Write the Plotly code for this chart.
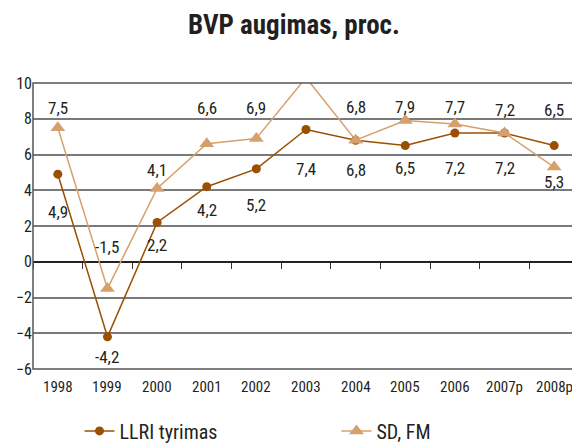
import plotly.graph_objects as go

years = ["1998", "1999", "2000", "2001", "2002", "2003", "2004", "2005", "2006", "2007p", "2008p"]
llri = [4.9, -4.2, 2.2, 4.2, 5.2, 7.4, 6.8, 6.5, 7.2, 7.2, 6.5]
sdfm = [7.5, -1.5, 4.1, 6.6, 6.9, 10.3, 6.8, 7.9, 7.7, 7.2, 5.3]
# label offsets in px (positive = above the point)
llri_shift = [-38, -20, -23, -23, -36, -40, -30, -22, -35, -35, 36]
sdfm_shift = [20, 42, 18, 36, 30, 21, 33, 14, 17, 23, -15]

FONT = "Liberation Sans Narrow, Arial Narrow, Roboto Condensed, Roboto, sans-serif"
C_LLRI = "#9a5000"
C_SD = "#d6a06c"
INK = "#231f20"

# page body has an 8px margin, so the figure is a bit smaller than the window
W, H, PAD = 580, 444, 8
Y_MIN, Y_MAX = -6, 10

fig = go.Figure()

fig.add_trace(go.Scatter(
    x=years, y=llri, mode="lines+markers", name="LLRI tyrimas",
    line=dict(color=C_LLRI, width=1.5), cliponaxis=False,
    marker=dict(symbol="circle", size=9, color=C_LLRI),
))
fig.add_trace(go.Scatter(
    x=years, y=sdfm, mode="lines+markers", name="SD, FM",
    line=dict(color=C_SD, width=1.5), cliponaxis=False,
    marker=dict(symbol="triangle-up", size=13, color=C_SD),
))

annotations = []
for vals, shifts in ((llri, llri_shift), (sdfm, sdfm_shift)):
    for i, (v, s) in enumerate(zip(vals, shifts)):
        annotations.append(dict(
            x=i, y=v, xref="x", yref="y", text=f"{v:.1f}".replace(".", ","),
            showarrow=False, yshift=s, font=dict(size=17, color=INK, family=FONT),
        ))
# category labels under the frame (the x axis itself sits on the zero line)
for i, yr in enumerate(years):
    annotations.append(dict(
        x=i, y=0, xref="x", yref="paper", text=yr, showarrow=False,
        yanchor="top", yshift=-7, font=dict(size=15, color=INK, family=FONT),
    ))

fig.update_layout(
    width=W - PAD, height=H - PAD,
    margin=dict(l=33 - PAD, r=1, t=83 - PAD, b=75),
    paper_bgcolor="white", plot_bgcolor="white",
    font=dict(family=FONT, color=INK, size=15),
    title=dict(text="<b>BVP augimas, proc.</b>", x=0.5, xanchor="center",
               y=0.962, yanchor="middle", font=dict(size=27, family=FONT)),
    showlegend=True,
    legend=dict(orientation="h", x=0.125, xanchor="left", xref="container",
                y=0.03, yanchor="middle", yref="container",
                font=dict(size=20, family=FONT), entrywidth=212),
    annotations=annotations,
    shapes=[dict(type="rect", xref="paper", yref="paper", x0=0, x1=1, y0=0, y1=1,
                 line=dict(color="#555", width=1.5), layer="above")],
    xaxis=dict(type="category", range=[-0.5, len(years) - 0.5], showgrid=False,
               anchor="free", position=(0 - Y_MIN) / (Y_MAX - Y_MIN),
               ticks="outside", tickson="boundaries", ticklen=6, tickwidth=1.3,
               tickcolor="#333", showticklabels=False, showline=False,
               zeroline=False, automargin=False),
    yaxis=dict(range=[Y_MIN, Y_MAX], dtick=2, showgrid=True, gridcolor="#7a7a7a",
               gridwidth=1.5, zeroline=True, zerolinecolor="#222", zerolinewidth=1.5,
               showline=False, ticks="", tickfont=dict(size=16), automargin=False),
)

fig.write_html("out.html")
